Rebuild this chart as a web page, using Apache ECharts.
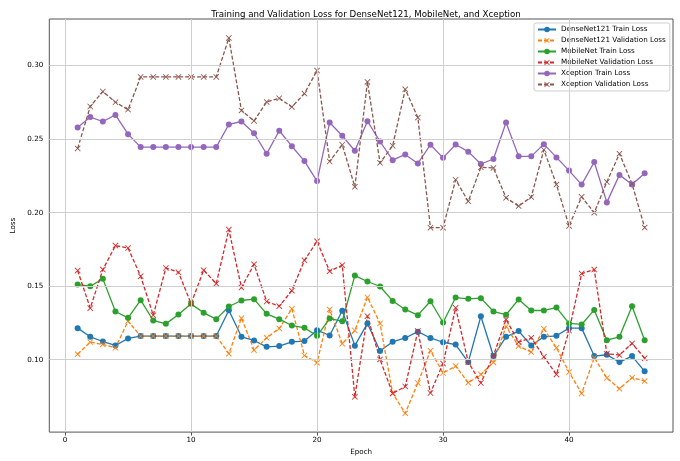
<!DOCTYPE html>
<html>
<head>
<meta charset="utf-8">
<script src="https://cdn.jsdelivr.net/npm/echarts@6/dist/echarts.min.js"></script>
<style>html,body{margin:0;padding:0;background:#fff}#c{width:680px;height:461px}</style>
</head>
<body>
<div id="c"></div>
<script>
const epochs = [1,2,3,4,5,6,7,8,9,10,11,12,13,14,15,16,17,18,19,20,21,22,23,24,25,26,27,28,29,30,31,32,33,34,35,36,37,38,39,40,41,42,43,44,45,46];

const densenetTrain = [0.1215,0.1156,0.1124,0.1097,0.1145,0.1161,0.1161,0.1161,0.1161,0.1161,0.1161,0.1161,0.1337,0.1156,0.1131,0.1088,0.1093,0.1122,0.1127,0.1201,0.1165,0.1333,0.1096,0.1247,0.1059,0.1122,0.1148,0.1191,0.1148,0.1119,0.1103,0.0984,0.1296,0.1025,0.1156,0.1195,0.1097,0.1156,0.1163,0.1215,0.1215,0.1025,0.1034,0.0984,0.1025,0.0921];
const densenetVal = [0.1038,0.1120,0.1104,0.1081,0.1262,0.1161,0.1161,0.1161,0.1161,0.1161,0.1161,0.1161,0.1041,0.1283,0.1066,0.1149,0.1213,0.1346,0.1029,0.0980,0.1342,0.1109,0.1199,0.1425,0.1247,0.0772,0.0636,0.0842,0.1062,0.0910,0.0957,0.0844,0.0900,0.0982,0.1226,0.1093,0.1052,0.1210,0.1081,0.0916,0.0771,0.1014,0.0876,0.0803,0.0878,0.0855];
const mobilenetTrain = [0.1511,0.1500,0.1550,0.1328,0.1285,0.1405,0.1267,0.1244,0.1308,0.1380,0.1319,0.1276,0.1362,0.1403,0.1412,0.1312,0.1276,0.1233,0.1217,0.1163,0.1280,0.1262,0.1572,0.1532,0.1498,0.1400,0.1342,0.1303,0.1398,0.1253,0.1423,0.1414,0.1419,0.1328,0.1306,0.1410,0.1335,0.1335,0.1355,0.1247,0.1240,0.1339,0.1133,0.1156,0.1364,0.1133];
const mobilenetVal = [0.1606,0.1351,0.1613,0.1776,0.1760,0.1568,0.1303,0.1624,0.1595,0.1382,0.1609,0.1518,0.1885,0.1491,0.1649,0.1396,0.1364,0.1470,0.1676,0.1805,0.1602,0.1643,0.0748,0.1296,0.1002,0.0771,0.0818,0.1195,0.0774,0.0974,0.1353,0.0984,0.0842,0.1028,0.1274,0.1120,0.1149,0.1020,0.0900,0.1199,0.1586,0.1613,0.1041,0.1032,0.1111,0.1011];
const xceptionTrain = [0.2580,0.2650,0.2620,0.2665,0.2534,0.2446,0.2446,0.2446,0.2446,0.2446,0.2446,0.2446,0.2600,0.2620,0.2540,0.2400,0.2557,0.2452,0.2351,0.2215,0.2613,0.2523,0.2421,0.2622,0.2484,0.2357,0.2396,0.2335,0.2462,0.2373,0.2464,0.2415,0.2331,0.2365,0.2613,0.2383,0.2383,0.2466,0.2376,0.2286,0.2191,0.2345,0.2070,0.2257,0.2191,0.2268];
const xceptionVal = [0.2437,0.2722,0.2824,0.2751,0.2701,0.2923,0.2923,0.2923,0.2923,0.2923,0.2923,0.2923,0.3188,0.2695,0.2624,0.2753,0.2778,0.2719,0.2810,0.2966,0.2348,0.2462,0.2176,0.2889,0.2339,0.2455,0.2839,0.2647,0.1898,0.1898,0.2224,0.2077,0.2309,0.2304,0.2101,0.2045,0.2106,0.2428,0.2191,0.1910,0.2108,0.2000,0.2209,0.2401,0.2196,0.1899];

const xTicks = [0,10,20,30,40];
const yTicks = [0.10,0.15,0.20,0.25,0.30];

const FONT = 'DejaVu Sans';
const XMARK = 'path://M1,0 L5,4 L9,0 L10,1 L6,5 L10,9 L9,10 L5,6 L1,10 L0,9 L4,5 L0,1 Z';

function mk(name, vals, color, dashed) {
  return {
    name: name,
    type: 'line',
    data: epochs.map((e, i) => [e, vals[i]]),
    symbol: dashed ? XMARK : 'circle',
    symbolSize: 6,
    showSymbol: true,
    lineStyle: { width: 1.3, color: color, type: dashed ? [4, 2] : 'solid' },
    itemStyle: { color: color },
    emphasis: { disabled: true },
    z: 3
  };
}

const chart = echarts.init(document.getElementById('c'), null, { renderer: 'canvas' });
chart.setOption({
  animation: false,
  backgroundColor: '#fff',
  textStyle: { fontFamily: FONT },
  title: {
    text: 'Training and Validation Loss for DenseNet121, MobileNet, and Xception',
    left: 361, top: 5, textAlign: 'center',
    textStyle: { fontFamily: FONT, fontSize: 8.7, fontWeight: 'normal', color: '#000' }
  },
  legend: {
    orient: 'vertical',
    left: 534, top: 23,
    padding: [3, 4, 3, 3],
    itemWidth: 18, itemHeight: 7,
    itemGap: 4,
    borderColor: '#cfcfcf', borderWidth: 1, borderRadius: 2,
    backgroundColor: 'rgba(255,255,255,0.85)',
    textStyle: { fontFamily: FONT, fontSize: 7.2, color: '#000' },
    data: ['DenseNet121 Train Loss','DenseNet121 Validation Loss','MobileNet Train Loss','MobileNet Validation Loss','Xception Train Loss','Xception Validation Loss']
  },
  grid: {
    left: 49.3, right: 7, top: 19, bottom: 27.7,
    show: true, borderColor: '#555', borderWidth: 1, backgroundColor: 'transparent'
  },
  xAxis: {
    type: 'value', min: -1.25, max: 48.25,
    name: 'Epoch', nameLocation: 'middle', nameGap: 15,
    nameTextStyle: { fontFamily: FONT, fontSize: 7.2, color: '#000' },
    axisLine: { show: false },
    splitLine: { show: false },
    axisTick: { show: true, customValues: xTicks, length: 3.5, inside: false, lineStyle: { color: '#555', width: 1 } },
    axisLabel: { customValues: xTicks, margin: 5, fontFamily: FONT, fontSize: 7.2, color: '#000', formatter: v => String(v) }
  },
  yAxis: {
    type: 'value', min: 0.0508, max: 0.3317,
    name: 'Loss', nameLocation: 'middle', nameGap: 25, nameRotate: 90,
    nameTextStyle: { fontFamily: FONT, fontSize: 7.2, color: '#000' },
    axisLine: { show: false },
    splitLine: { show: false },
    axisTick: { show: true, customValues: yTicks, length: 3.5, inside: false, lineStyle: { color: '#555', width: 1 } },
    axisLabel: { customValues: yTicks, margin: 6, fontFamily: FONT, fontSize: 7.2, color: '#000', formatter: v => v.toFixed(2) }
  },
  series: [
    {
      name: '__grid', type: 'line', data: [], silent: true, z: 1,
      markLine: {
        silent: true, symbol: 'none', animation: false,
        label: { show: false },
        lineStyle: { color: '#cfcfcf', width: 1, type: 'solid' },
        emphasis: { disabled: true },
        data: xTicks.map(v => ({ xAxis: v })).concat(yTicks.map(v => ({ yAxis: v })))
      }
    },
    mk('DenseNet121 Train Loss', densenetTrain, '#1f77b4', false),
    mk('DenseNet121 Validation Loss', densenetVal, '#ff7f0e', true),
    mk('MobileNet Train Loss', mobilenetTrain, '#2ca02c', false),
    mk('MobileNet Validation Loss', mobilenetVal, '#d62728', true),
    mk('Xception Train Loss', xceptionTrain, '#9467bd', false),
    mk('Xception Validation Loss', xceptionVal, '#8c564b', true)
  ]
});
</script>
</body>
</html>
